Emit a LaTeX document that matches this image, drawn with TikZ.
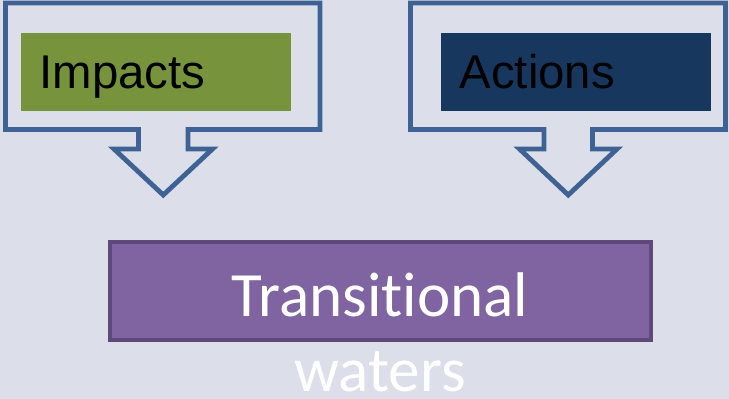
\documentclass[tikz,border=0pt]{standalone}
\usepackage{fontspec}
\setmainfont{Liberation Sans}
\newfontfamily\calibrifont[Ligatures={NoCommon,NoContextual,NoRare}]{Carlito}
\usepackage{xcolor}
\usepackage{tikz}
\usetikzlibrary{calc,positioning}
\definecolor{bgcol}{HTML}{DCDEE9}
\definecolor{frameblue}{HTML}{3E6293}
\definecolor{impactgreen}{HTML}{77933C}
\definecolor{actionnavy}{HTML}{17375E}
\definecolor{waterpurple}{HTML}{8064A2}
\definecolor{waterborder}{HTML}{5F497A}
\tikzset{
  calloutframe/.style={draw=frameblue, line width=3.6pt, line join=miter},
  topbox/.style={rectangle, minimum width=202.5pt, minimum height=58.5pt, inner xsep=14pt,
    text width=174.5pt, align=left, text height=25.5pt, text depth=0pt,
    font=\fontsize{35.5}{42}\selectfont, text=black},
  waterbox/.style={rectangle, draw=waterborder, fill=waterpurple, line width=3pt,
    minimum width=405.75pt, minimum height=72.75pt, text=white,
    font=\calibrifont\fontsize{47.3}{57}\selectfont, text height=37.5pt, text depth=0pt},
  watertext/.style={text=white, font=\calibrifont\fontsize{47.3}{57}\selectfont, inner sep=0pt}
}
\begin{document}
\begin{tikzpicture}[x=0.75pt,y=-0.75pt]
  \fill[bgcol] (0,0) rectangle (729,399);
  \useasboundingbox (0,0) rectangle (729,399);
  % callout frames
  \draw[calloutframe] (5.5,3) -- (320,3) -- (320,129.5) -- (188,129.5) -- (188,149)
    -- (212.5,149) -- (163.25,195) -- (114,149) -- (138.5,149) -- (138.5,129.5)
    -- (5.5,129.5) -- cycle;
  \draw[calloutframe] (410.5,3) -- (725.5,3) -- (725.5,129.5) -- (592.5,129.5) -- (592.5,149)
    -- (617,149) -- (568.25,195) -- (519.5,149) -- (544,149) -- (544,129.5)
    -- (410.5,129.5) -- cycle;
  % boxes
  \node[topbox, fill=impactgreen] (impacts) at (156,72) {Impacts};
  \node[topbox, fill=actionnavy] (actions) at (576,72) {Actions};
  \node[waterbox] (trans) at (380,291) {Transitional};
  \node[watertext, anchor=base] (waters) at ([yshift=-57pt]trans.base) {waters};
\end{tikzpicture}
\end{document}
